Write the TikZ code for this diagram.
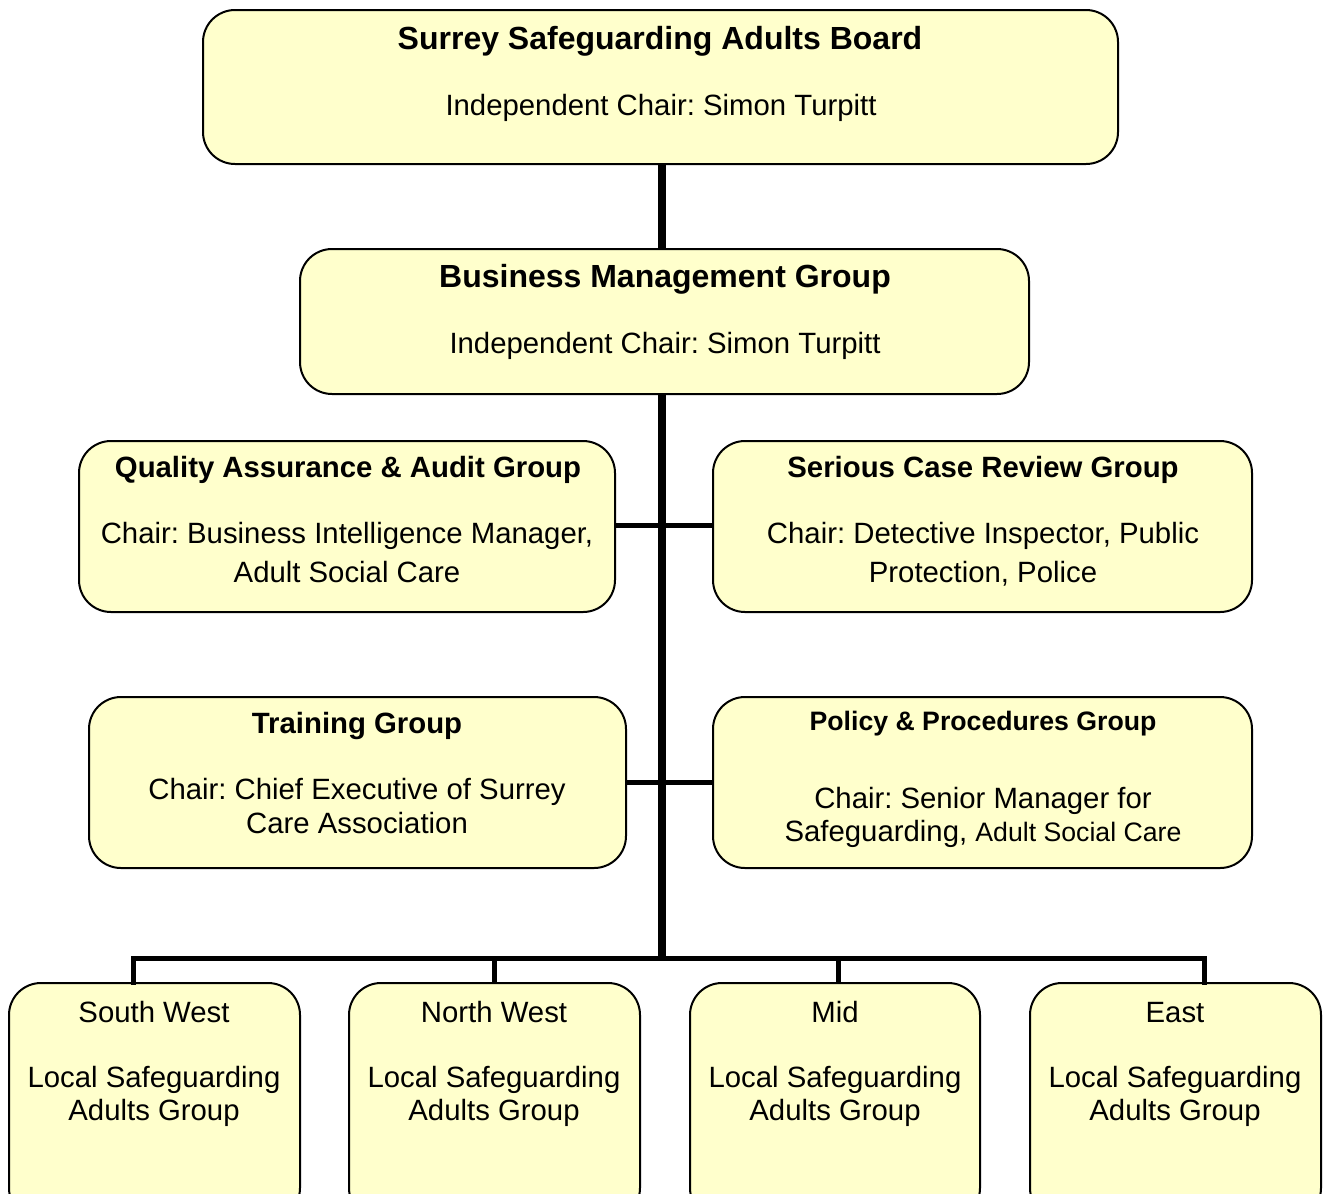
\documentclass[tikz,border=0pt]{standalone}
\usepackage{fontspec}
\setmainfont{Liberation Sans}
\frenchspacing
\usetikzlibrary{fit}
\definecolor{boxfill}{HTML}{FFFFCC}
\tikzset{
  box/.style={draw=black, line width=1.5pt, fill=boxfill, rounded corners=24pt, inner sep=0pt},
  bigtitle/.style={anchor=base, font=\frenchspacing\fontsize{24}{28}\selectfont\bfseries},
  gtitle/.style={anchor=base, font=\frenchspacing\fontsize{22}{26}\selectfont\bfseries},
  stitle/.style={anchor=base, font=\frenchspacing\fontsize{20}{24}\selectfont\bfseries},
  txt/.style={anchor=base, font=\frenchspacing\fontsize{22}{26}\selectfont},
  trunkline/.style={line width=6pt},
  branch/.style={line width=3.75pt},
}
\begin{document}
\begin{tikzpicture}[x=0.75pt, y=-0.75pt]
\useasboundingbox (0,0) rectangle (1323,1193);
\clip (0,0) rectangle (1323,1193);
% boxes
\node[box, fit={(203,10) (1118,164)}] (board) {};
\node[box, fit={(300,249) (1029,394)}] (bmg) {};
\node[box, fit={(79,441) (615,612)}] (qa) {};
\node[box, fit={(713,441) (1252,612)}] (scr) {};
\node[box, fit={(89,697) (626,868)}] (train) {};
\node[box, fit={(713,697) (1252,868)}] (pol) {};
\node[box, fit={(9,983) (300,1220)}] (sw) {};
\node[box, fit={(349,983) (640,1220)}] (nw) {};
\node[box, fit={(690,983) (980,1220)}] (mid) {};
\node[box, fit={(1030,983) (1321,1220)}] (east) {};
% texts
\node[bigtitle] (boardT) at (660,49) {Surrey Safeguarding Adults Board};
\node[txt] (boardS) at (661,115) {Independent Chair: Simon Turpitt};
\node[bigtitle] (bmgT) at (665,287) {Business Management Group};
\node[txt] (bmgS) at (665,353) {Independent Chair: Simon Turpitt};
\node[gtitle] (qaT) at (348,477) {Quality Assurance \& Audit Group};
\node[txt] (qaS1) at (347,543) {Chair: Business Intelligence Manager,};
\node[txt] (qaS2) at (347,582) {Adult Social Care};
\node[gtitle] (scrT) at (983,477) {Serious Case Review Group};
\node[txt] (scrS1) at (983,543) {Chair: Detective Inspector, Public};
\node[txt] (scrS2) at (983,582) {Protection, Police};
\node[gtitle] (trT) at (357,733) {Training Group};
\node[txt] (trS1) at (357,799) {Chair: Chief Executive of Surrey};
\node[txt] (trS2) at (357,833) {Care Association};
\node[stitle] (polT) at (983,730) {Policy \& Procedures Group};
\node[txt] (polS1) at (983,808) {Chair: Senior Manager for};
\node[txt] (polS2) at (983,841) {Safeguarding, {\fontsize{20}{24}\selectfont Adult Social Care}};
\foreach \n/\x/\lab in {sw/154/South West, nw/494/North West, mid/835/Mid, east/1175/East}{
  \node[txt] (\n T) at (\x,1022) {\lab};
  \node[txt] (\n S1) at (\x,1087) {Local Safeguarding};
  \node[txt] (\n S2) at (\x,1120) {Adults Group};
}
% connectors
\coordinate (trunk) at (662,958);
\coordinate (j1) at (662,525);
\coordinate (j2) at (662,782);
\coordinate (d1) at (133,958);
\coordinate (d2) at (494,958);
\coordinate (d3) at (838,958);
\coordinate (d4) at (1204,958);
\draw[trunkline] (board.south -| trunk) -- (bmg.north -| trunk);
\draw[trunkline] (bmg.south -| trunk) -- ([yshift=-2.25pt]trunk);
\draw[branch] (qa.east |- j1) -- (scr.west |- j1);
\draw[branch] (train.east |- j2) -- (pol.west |- j2);
\draw[branch, line cap=rect] (d1 |- sw.north) -- (d1) -- (d4) -- (d4 |- east.north);
\draw[branch] (d2) -- (d2 |- nw.north);
\draw[branch] (d3) -- (d3 |- mid.north);
\end{tikzpicture}
\end{document}
